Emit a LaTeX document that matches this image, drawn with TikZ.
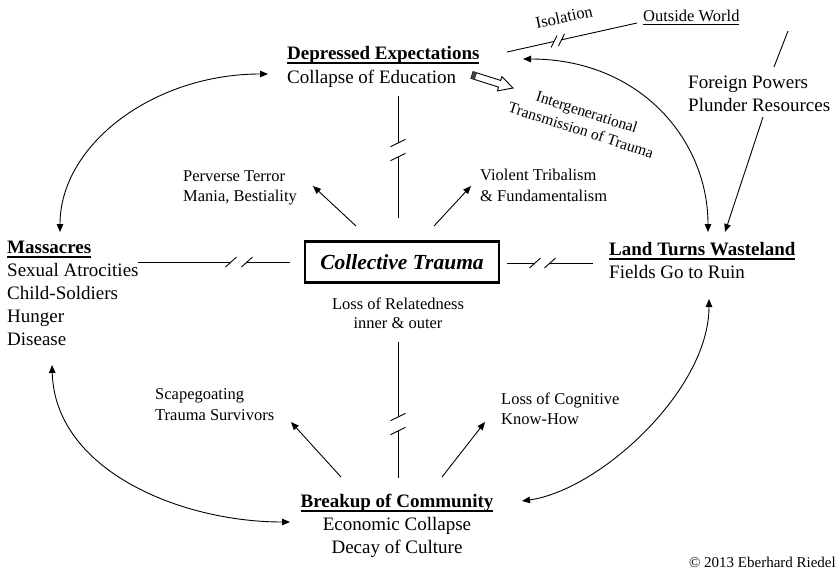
\documentclass[tikz,border=0pt]{standalone}
\usepackage{fontspec}
\setmainfont{Liberation Serif}
\usetikzlibrary{arrows.meta}
\newcommand\ulbig[1]{\setbox0\hbox{#1}\rlap{\rule[-4.6pt]{\wd0}{1.2pt}}\box0}
\newcommand\ulsmall[1]{\setbox0\hbox{#1}\rlap{\rule[-3.6pt]{\wd0}{1.1pt}}\box0}
\begin{document}
\begin{tikzpicture}[x=1pt,y=-1pt,
  big/.style={font=\fontsize{19}{23}\selectfont, inner sep=0pt},
  small/.style={font=\fontsize{16.5}{20}\selectfont, inner sep=0pt},
  conn/.style={line width=0.9pt},
  arr/.style={conn, -{Triangle[length=8pt,width=6.5pt]}},
  darr/.style={conn, {Triangle[length=8pt,width=6.5pt]}-{Triangle[length=8pt,width=6.5pt]}}]
\useasboundingbox (0,0) rectangle (838,573);

% ---- text nodes ----
\node[big,anchor=base west] (dep1) at (287,59) {\ulbig{\textbf{Depressed Expectations}}};
\node[big,anchor=base west] (dep2) at (287,83) {Collapse of Education};
\node[small,anchor=base west] (out) at (643,21) {\ulsmall{Outside World}};
\node[small,rotate=12] (iso) at (564,17) {Isolation};
\node[big,anchor=base west] (fp1) at (688,88) {Foreign Powers};
\node[big,anchor=base west] (fp2) at (688,111) {Plunder Resources};
\node[font=\fontsize{15.5}{19}\selectfont, inner sep=0pt, rotate=-18, align=center] (igt) at (584,121) {Intergenerational\\Transmission of Trauma};

\node[small,anchor=base west] (pt1) at (183,181) {Perverse Terror};
\node[small,anchor=base west] (pt2) at (183,201) {Mania, Bestiality};
\node[small,anchor=base west] (vt1) at (480,180) {Violent Tribalism};
\node[small,anchor=base west] (vt2) at (480,201) {\& Fundamentalism};

\node[big,anchor=base west] (m1) at (7,253) {\ulbig{\textbf{Massacres}}};
\node[big,anchor=base west] (m2) at (7,276) {Sexual Atrocities};
\node[big,anchor=base west] (m3) at (7,299) {Child-Soldiers};
\node[big,anchor=base west] (m4) at (7,322) {Hunger};
\node[big,anchor=base west] (m5) at (7,345) {Disease};

\node[draw, line width=2.2pt, minimum width=194pt, minimum height=41pt, inner sep=0pt,
      font=\fontsize{21.5}{25}\selectfont\bfseries\itshape] (ct) at (402,262) {Collective Trauma};

\node[big,anchor=base west] (l1) at (609,255) {\ulbig{\textbf{Land Turns Wasteland}}};
\node[big,anchor=base west] (l2) at (609,278) {Fields Go to Ruin};

\node[small,anchor=base] (lr1) at (398,309) {Loss of Relatedness};
\node[small,anchor=base] (lr2) at (398,328) {inner \& outer};

\node[small,anchor=base west] (sc1) at (155,399) {Scapegoating};
\node[small,anchor=base west] (sc2) at (155,420) {Trauma Survivors};
\node[small,anchor=base west] (lc1) at (501,404) {Loss of Cognitive};
\node[small,anchor=base west] (lc2) at (501,424) {Know-How};

\node[big,anchor=base] (b1) at (397,507) {\ulbig{\textbf{Breakup of Community}}};
\node[big,anchor=base] (b2) at (397,530) {Economic Collapse};
\node[big,anchor=base] (b3) at (397,553) {Decay of Culture};

\node[font=\fontsize{15}{18}\selectfont, inner sep=0pt, anchor=base east] (cr) at (836,567) {© 2013 Eberhard Riedel};

% ---- connector end points ----
\coordinate (dmL) at (268,74);  \coordinate (mT) at (60,232);
\coordinate (dR) at (523,59);   \coordinate (lT1) at (708,232);
\coordinate (lB) at (709,299);  \coordinate (bR) at (522,501);
\coordinate (bL) at (290,522);  \coordinate (mB) at (52,365);
\coordinate (fpB) at (763,117); \coordinate (lT2) at (725,232);
\coordinate (fpTop) at (788,31); \coordinate (fpT) at (774,67);
\coordinate (ctUL) at (356,226); \coordinate (ptA) at (313,186);
\coordinate (ctUR) at (434,226); \coordinate (vtA) at (471,186);
\coordinate (bUL) at (341,477); \coordinate (scA) at (291,422);
\coordinate (bUR) at (442,477); \coordinate (lcA) at (485,422);
\coordinate (dB) at (398,96);   \coordinate (ctT) at (398,218);
\coordinate (vb1) at (398,143); \coordinate (vb2) at (398,157);
\coordinate (ctB) at (398,342); \coordinate (bT) at (398,478);
\coordinate (vb3) at (398,417); \coordinate (vb4) at (398,431);
\coordinate (mR) at (138,262);  \coordinate (ctL) at (290,262);
\coordinate (hb1) at (231,262); \coordinate (hb2) at (247,262);
\coordinate (ctR) at (507,263); \coordinate (lL) at (593,263);
\coordinate (hb3) at (535,263); \coordinate (hb4) at (550,263);
\coordinate (dTR) at (507,52);  \coordinate (owL) at (637,23);
\coordinate (ib1) at (554,41.5); \coordinate (ib2) at (561.5,39.8);

% ---- curved double arrows ----
\draw[darr] (mT) .. controls (60,145) and (153,74) .. (dmL);
\draw[darr] (dR) .. controls (640,59) and (708,140) .. (lT1);
\draw[darr] (lB) .. controls (709,390) and (600,490) .. (bR);
\draw[darr] (mB) .. controls (55,470) and (180,522) .. (bL);

% ---- straight arrows ----
\draw[arr] (fpB) -- (lT2);
\draw[conn] (fpTop) -- (fpT);
\draw[arr] (ctUL) -- (ptA);
\draw[arr] (ctUR) -- (vtA);
\draw[arr] (bUL) -- (scA);
\draw[arr] (bUR) -- (lcA);

% ---- broken lines ----
\draw[conn] (dB) -- (vb1); \draw[conn] (vb2) -- (ctT);
\draw[conn] ([shift={(-7.5,3.7)}]vb1) -- ([shift={(7.5,-3.7)}]vb1);
\draw[conn] ([shift={(-7.5,3.7)}]vb2) -- ([shift={(7.5,-3.7)}]vb2);

\draw[conn] (ctB) -- (vb3); \draw[conn] (vb4) -- (bT);
\draw[conn] ([shift={(-7.5,3.7)}]vb3) -- ([shift={(7.5,-3.7)}]vb3);
\draw[conn] ([shift={(-7.5,3.7)}]vb4) -- ([shift={(7.5,-3.7)}]vb4);

\draw[conn] (mR) -- (hb1); \draw[conn] (hb2) -- (ctL);
\draw[conn] ([shift={(-5.5,5)}]hb1) -- ([shift={(5.5,-5)}]hb1);
\draw[conn] ([shift={(-5.5,5)}]hb2) -- ([shift={(5.5,-5)}]hb2);

\draw[conn] (ctR) -- (hb3); \draw[conn] (hb4) -- (lL);
\draw[conn] ([shift={(-5.5,5)}]hb3) -- ([shift={(5.5,-5)}]hb3);
\draw[conn] ([shift={(-5.5,5)}]hb4) -- ([shift={(5.5,-5)}]hb4);

\draw[conn] (dTR) -- (ib1); \draw[conn] (ib2) -- (owL);
\draw[conn] ([shift={(-3,6)}]ib1) -- ([shift={(3,-6)}]ib1);
\draw[conn] ([shift={(-3,6)}]ib2) -- ([shift={(3,-6)}]ib2);

% ---- hollow arrow ----
\begin{scope}[shift={(472,75)}, rotate=-17.6]
  \draw[line width=0.9pt, fill=white, line join=miter]
    (0,-3.5) -- (29,-3.5) -- (29,-7.5) -- (43,0) -- (29,7.5) -- (29,3.5) -- (0,3.5) -- cycle;
  \fill[black!75] (0,-3.5) rectangle (4,3.5);
\end{scope}
\end{tikzpicture}
\end{document}
